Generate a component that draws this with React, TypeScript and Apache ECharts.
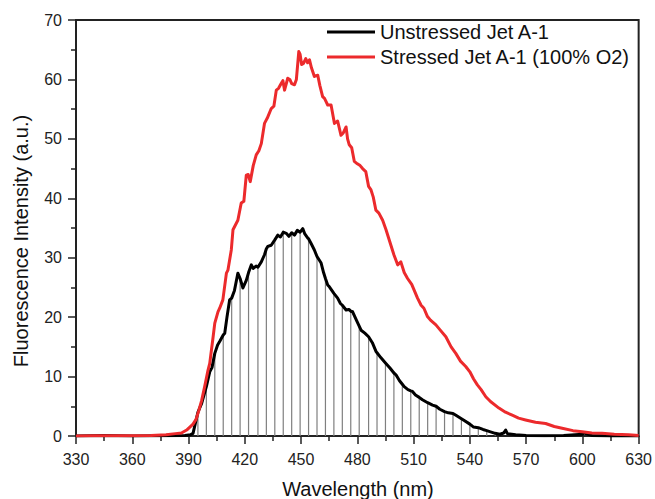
import React, { useEffect, useRef } from "react";
import * as echarts from "echarts";

const xTicks = { min: 330, max: 630, interval: 30 };
const yTicks = { min: 0, max: 70, interval: 10 };

const seriesNames = ["Unstressed Jet A-1", "Stressed Jet A-1 (100% O2)"];

// Unstressed Jet A-1 (black) [wavelength nm, intensity a.u.]
const unstressed: [number, number][] = [
  [330, 0], [345, 0.1], [360, 0], [375, 0.05], [388, 0.1], [391, 0.2], [392.4, 0.45],
  [395, 4.0], [397, 5.5], [399.5, 8.3], [401.3, 10.8], [402.5, 11.5], [404, 13.9],
  [405.5, 15.3], [406.6, 15.9], [408.5, 17.0], [409.3, 17.3], [410.5, 20.0], [411.9, 22.9],
  [413, 23.2], [414.5, 24.5], [416.3, 27.4], [417.5, 26.5], [419, 24.9], [420.8, 26.2],
  [422, 27.5], [423.5, 28.8], [424.5, 28.2], [426, 28.6], [427, 28.4], [428.8, 29.3],
  [430.5, 30.5], [431.5, 31.5], [432.3, 31.9], [434.1, 32.1], [436, 33.0], [437.6, 33.8],
  [439, 33.5], [440.5, 34.3], [442.1, 34.1], [443.5, 33.6], [445, 34.2], [446.5, 33.8],
  [448, 34.6], [449.5, 34.3], [450.9, 34.9], [452, 34.0], [453.6, 33.3], [454, 33.2],
  [455.5, 32.3], [457.1, 31.3], [458.5, 30.2], [460.7, 29.1], [462, 27.5], [463, 26.5],
  [464.2, 25.4], [465.1, 25.1], [467.5, 24.0], [469.5, 23.2], [471, 22.3], [472, 22.0],
  [474, 21.2], [475.5, 21.3], [476.5, 21.0], [477.5, 20.9], [479.5, 19.5], [481, 18.5],
  [482, 17.8], [484, 17.3], [486, 16.7], [488, 15.7], [490, 14.2], [490.5, 14.0],
  [492.5, 13.2], [495, 12.3], [497.5, 11.4], [499.5, 10.6], [500.6, 10.3], [502.5, 9.3],
  [504, 8.7], [505, 8.3], [507, 7.8], [508.5, 7.6], [509.4, 7.5], [511, 6.9], [513, 6.5],
  [514.7, 6.1], [517.5, 5.6], [520.1, 5.2], [522, 5.0], [524, 4.5], [526.5, 4.1],
  [528.5, 3.9], [531, 3.8], [533, 3.4], [535.5, 2.9], [537, 2.6], [540, 2.0], [542, 1.5],
  [544.5, 1.4], [547, 1.1], [549, 0.9], [551, 0.7], [553.5, 0.45], [556, 0.3], [558, 0.5],
  [559.1, 1.0], [560, 0.4], [564.4, 0.2], [570, 0.1], [580, 0.05], [590, 0.1], [600, 0.3],
  [601, 0.5], [605, 0.1], [615, 0], [630, 0],
];

// Stressed Jet A-1 (red)
const stressed: [number, number][] = [
  [330, 0], [340, 0.05], [350, 0.05], [360, 0.05], [370, 0.1], [378, 0.2], [383, 0.4],
  [386.2, 0.5], [389, 1.0], [392.4, 2.0], [394, 2.8], [395.5, 4.3], [397, 6.0], [398.6, 8.3],
  [400.4, 11.1], [401.3, 12.2], [403, 16.4], [404, 19.0], [405.7, 20.9], [406.6, 21.5],
  [408.3, 22.9], [410.2, 27.4], [411, 27.9], [412.8, 31.3], [413.7, 34.7], [416.3, 36.3],
  [418.1, 39.2], [419.5, 39.5], [420.8, 43.9], [421.8, 44.0], [422.9, 42.8], [424.5, 45.5],
  [426.1, 47.3], [427.5, 48], [428.8, 49.2], [430.5, 52.6], [432, 53.5], [434.1, 55.1],
  [435.5, 55.5], [436.8, 58.2], [438, 58.5], [439.4, 59.3], [440.3, 59.8], [441.2, 58.2],
  [442.9, 60.2], [444, 60], [445, 59.3], [446.5, 59.1], [447.5, 60], [448.8, 64.7],
  [449.5, 64.2], [450.3, 62.5], [451.3, 62.7], [452.5, 63.5], [453.5, 62.8], [454.5, 63.3],
  [455.5, 62], [457.1, 60.5], [458.9, 60.7], [460, 59], [461.5, 57.1], [462.5, 56.8],
  [464.2, 55.7], [466.0, 55.7], [467.8, 52.6], [469.5, 53], [471.3, 50.6], [472.5, 51],
  [474.0, 52.0], [474.8, 50], [475.7, 49.0], [477, 48.5], [478.4, 46.2], [480, 45.8],
  [481.5, 45.5], [482.8, 45.0], [484.5, 44.5], [486, 42], [487.3, 41.4], [488.5, 40.2],
  [489.9, 38.0], [491.5, 37.5], [493.5, 36.3], [495.3, 34.7], [497.9, 32.1], [499.5, 30.5],
  [501.5, 28.8], [503.2, 29.3], [505, 27.5], [506.8, 26.5], [509, 25.5], [512.1, 23.2],
  [514, 22.0], [515.5, 21.5], [517.4, 20.1], [519, 19.5], [521.9, 18.7], [524, 17.9],
  [527.2, 16.7], [530, 15.0], [532.5, 13.9], [535, 12.6], [537.8, 11.7], [540, 10.8],
  [542, 9.6], [544, 8.6], [546, 7.8], [548.5, 6.6], [551, 5.8], [555.5, 4.7], [559, 4.0],
  [562.6, 3.5], [566, 3.0], [569.7, 2.7], [575, 2.3], [580.4, 2.1], [585, 1.6], [589.2, 1.3],
  [595, 0.9], [599.9, 0.7], [605, 0.5], [610.5, 0.45], [617, 0.3], [624.7, 0.2], [630, 0.1],
];

// Wavelengths where the vertical drop lines under the black curve sit
const dropWavelengths = [
  395, 399.5, 404, 408.5, 413, 417.5, 422, 427, 431.5, 436, 440.5, 445, 449.5, 454,
  458.5, 463, 467.5, 472, 476.5, 481, 486, 490.5, 495, 499.5, 504, 508.5, 513, 517.5,
  522, 526.5, 531, 535.5, 540, 544.5, 549, 553.5,
];

export default function App() {
  const ref = useRef<HTMLDivElement>(null);
  useEffect(() => {
    if (!ref.current) return;
    const chart = echarts.init(ref.current, undefined, { renderer: "svg" });
    const dropData = unstressed.filter((p) => dropWavelengths.includes(p[0]));
    const font = "'Liberation Sans', Arial, sans-serif";
    const axisColor = "#222";
    chart.setOption({
      animation: false,
      backgroundColor: "#fff",
      textStyle: { fontFamily: font },
      grid: {
        left: 76, right: 15, top: 20, bottom: 63,
        show: true, borderColor: axisColor, borderWidth: 2, backgroundColor: "transparent",
      },
      legend: {
        data: seriesNames,
        orient: "vertical",
        left: 322,
        top: 16,
        itemWidth: 48,
        itemHeight: 3,
        itemGap: 3,
        icon: "rect",
        textStyle: { fontSize: 20, color: "#111", fontFamily: font, lineHeight: 22 },
        selectedMode: false,
      },
      xAxis: {
        type: "value",
        min: xTicks.min, max: xTicks.max, interval: xTicks.interval,
        axisLine: { show: true, onZero: false, lineStyle: { color: axisColor, width: 2 } },
        axisTick: { show: true, inside: false, length: 8, lineStyle: { color: axisColor, width: 1.5 } },
        minorTick: { show: true, splitNumber: 2, length: 5, lineStyle: { color: axisColor, width: 1.5 } },
        splitLine: { show: false },
        axisLabel: { fontSize: 16, color: "#222", margin: 15, fontFamily: font },
      },
      yAxis: {
        type: "value",
        min: yTicks.min, max: yTicks.max, interval: yTicks.interval,
        axisLine: { show: true, lineStyle: { color: axisColor, width: 2 } },
        axisTick: { show: true, inside: false, length: 8, lineStyle: { color: axisColor, width: 1.5 } },
        minorTick: { show: true, splitNumber: 2, length: 5, lineStyle: { color: axisColor, width: 1.5 } },
        splitLine: { show: false },
        axisLabel: { fontSize: 16, color: "#222", margin: 14, fontFamily: font },
      },
      graphic: [
        {
          type: "text",
          x: 21, y: 241, rotation: Math.PI / 2,
          style: {
            text: "Fluorescence Intensity (a.u.)",
            fontSize: 20, fontFamily: font, fill: "#111",
            align: "center", verticalAlign: "middle",
          },
        },
        {
          type: "text",
          x: 358, y: 489,
          style: {
            text: "Wavelength (nm)",
            fontSize: 20, fontFamily: font, fill: "#111",
            align: "center", verticalAlign: "middle",
          },
        },
      ],
      series: [
        {
          type: "custom",
          name: "drop",
          data: dropData,
          silent: true,
          z: 1,
          renderItem: (params: any, api: any) => {
            const x = api.value(0);
            const y = api.value(1);
            const p0 = api.coord([x, 0]);
            const p1 = api.coord([x, y]);
            return {
              type: "line",
              shape: { x1: p0[0], y1: p0[1], x2: p1[0], y2: p1[1] },
              style: { stroke: "#7f7f7f", lineWidth: 1.2 },
            };
          },
        },
        {
          type: "line",
          name: seriesNames[0],
          data: unstressed,
          showSymbol: false,
          symbol: "none",
          z: 3,
          itemStyle: { color: "#000" },
          lineStyle: { color: "#000", width: 3, join: "round" },
        },
        {
          type: "line",
          name: seriesNames[1],
          data: stressed,
          showSymbol: false,
          symbol: "none",
          z: 4,
          itemStyle: { color: "#ec2a2c" },
          lineStyle: { color: "#ec2a2c", width: 3, join: "round" },
        },
      ],
    });
    return () => chart.dispose();
  }, []);
  return (
    <div
      ref={ref}
      style={{ position: "fixed", left: 0, top: 0, width: 655, height: 499, background: "#fff" }}
    />
  );
}
